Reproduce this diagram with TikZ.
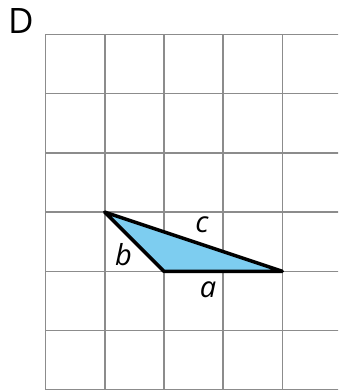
\documentclass[tikz,border=0pt]{standalone}
\usepackage{fontspec}
\setmainfont{Open Sans}
\definecolor{gridgray}{RGB}{140,140,140}
\definecolor{trifill}{RGB}{125,205,240}
\tikzset{
  gridline/.style={draw=gridgray, line width=1.6pt},
  triedge/.style={draw=black, line width=3.5pt, line join=round, line cap=round},
  lbl/.style={font=\fontsize{29}{31}\selectfont\itshape, inner sep=0pt},
  titlelbl/.style={font=\fontsize{35}{38}\selectfont, inner sep=0pt}
}
\begin{document}
\begin{tikzpicture}[x=1pt, y=-1pt]
\useasboundingbox (0,0) rectangle (338,390);
\begin{scope}
\clip (0,0) rectangle (338,390);
\foreach \k in {0,...,4} {
  \draw[gridline] ({45.5+59.2*\k},34.5) -- ({45.5+59.2*\k},392);
}
\foreach \k in {0,...,6} {
  \draw[gridline] (45.5,{34.5+59.2*\k}) -- (340,{34.5+59.2*\k});
}
\end{scope}
\coordinate (P) at (104.7,212.1);
\coordinate (Q) at (163.9,271.3);
\coordinate (R) at (282.3,271.3);
\fill[trifill] (P) -- (Q) -- (R) -- cycle;
\draw[triedge] (P) -- (Q) -- (R) -- cycle;
\node[lbl] (c) at (202,225) {c};
\node[lbl] (b) at (123.5,255) {b};
\node[lbl] (a) at (208,290) {a};
\node[titlelbl] (D) at (21,21.5) {D};
\end{tikzpicture}
\end{document}
